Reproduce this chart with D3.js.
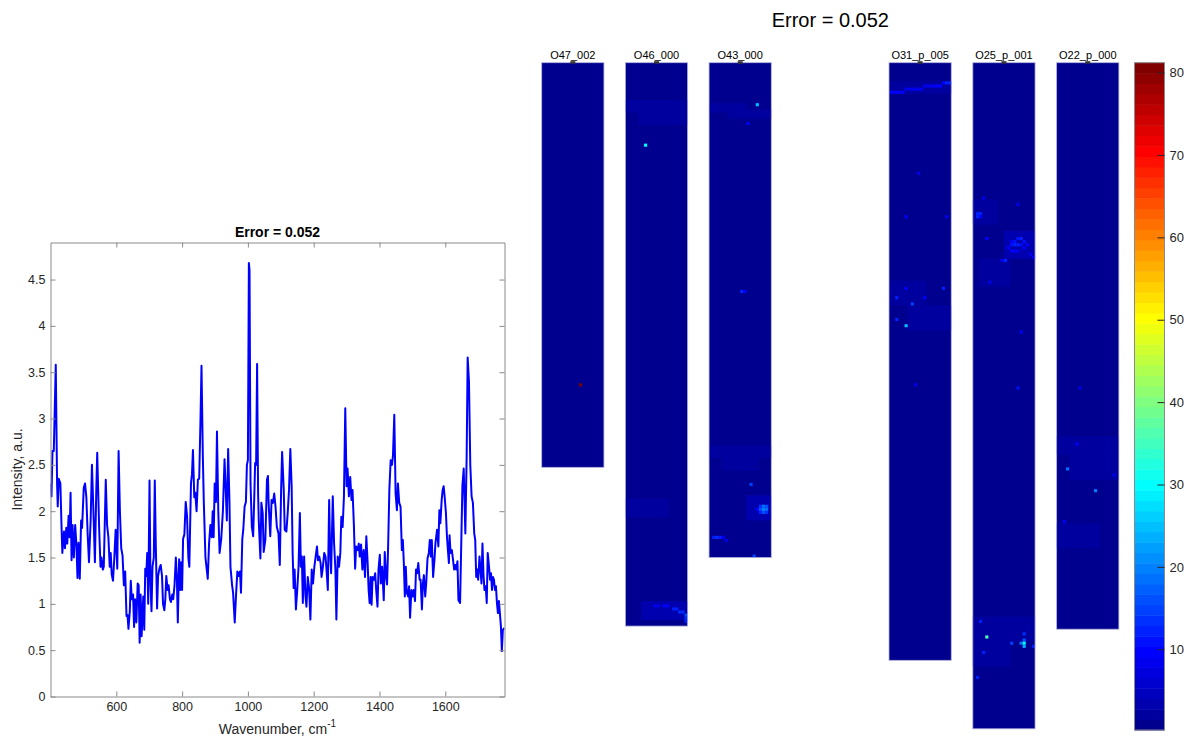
<!DOCTYPE html>
<html>
<head>
<meta charset="utf-8">
<script src="https://cdn.jsdelivr.net/npm/d3@7"></script>
<style>
  html, body { margin: 0; padding: 0; background: #fff; }
  svg { display: block; font-family: "Liberation Sans", Arial, Helvetica, sans-serif; }
</style>
</head>
<body>
<svg id="fig" width="1190" height="739"></svg>
<script>
// ---------- data ----------
const errorLabel = "Error = 0.052";

// Raman spectrum: [wavenumber cm^-1, intensity a.u.]
const spectrum = [
  [400,2.30],[403,2.16],[406,2.65],[410,2.65],[416,3.58],[420,2.30],[422,2.05],[425,2.35],[430,2.30],
  [433,1.90],[436,1.55],[441,1.78],[444,1.60],[448,1.82],[451,1.65],[455,1.95],[458,1.72],[461,2.20],
  [464,1.47],[467,1.85],[471,1.50],[475,1.85],[479,1.62],[482,1.28],[485,1.66],[489,1.27],[493,1.90],
  [496,1.82],[501,2.25],[505,2.30],[509,2.15],[513,1.75],[517,1.45],[522,1.90],[526,2.50],[530,2.05],
  [535,1.45],[539,2.20],[542,2.63],[548,1.80],[552,1.40],[555,1.50],[559,1.37],[562,1.40],[568,2.34],
  [572,1.85],[576,1.72],[580,1.40],[583,1.55],[586,1.32],[590,1.25],[594,1.50],[598,1.80],[603,1.38],
  [607,2.65],[611,2.00],[615,1.60],[619,1.52],[623,1.20],[627,1.35],[631,0.87],[634,0.88],[637,0.73],
  [641,0.92],[644,1.25],[647,1.05],[651,1.10],[654,0.75],[657,1.05],[661,0.80],[665,1.22],[668,1.20],
  [671,0.58],[674,1.10],[677,0.65],[682,1.08],[685,0.72],[688,1.38],[691,1.30],[694,1.55],[697,1.00],
  [701,2.33],[704,1.20],[707,0.92],[710,1.40],[714,1.50],[717,2.33],[720,1.65],[724,0.95],[727,1.30],
  [731,1.38],[735,1.42],[739,1.30],[742,1.00],[746,0.93],[749,1.05],[752,1.30],[756,1.15],[759,1.20],
  [763,1.05],[766,1.02],[770,1.10],[773,1.05],[777,1.20],[781,1.50],[784,1.30],[787,0.80],[791,1.48],
  [794,1.15],[797,1.45],[800,1.15],[803,1.70],[807,1.75],[811,2.10],[815,1.95],[819,1.50],[822,1.40],
  [827,2.30],[830,2.40],[833,2.66],[837,2.15],[840,2.20],[844,2.00],[848,2.34],[852,2.35],[856,3.00],
  [859,3.57],[863,2.60],[866,2.10],[871,1.50],[878,1.27],[882,1.65],[886,1.85],[890,1.72],[893,2.00],
  [896,1.72],[899,2.30],[903,2.10],[906,2.86],[910,2.00],[914,1.55],[919,1.70],[924,2.00],[929,2.56],
  [933,2.20],[936,1.90],[940,2.67],[944,2.10],[947,1.40],[952,1.20],[955,1.12],[960,0.80],[964,1.10],
  [968,1.35],[972,1.30],[976,1.35],[979,1.12],[983,1.70],[986,1.80],[990,2.05],[994,2.10],[997,2.50],
  [1000,2.55],[1003,4.68],[1005,4.60],[1008,2.30],[1012,1.83],[1016,1.73],[1019,2.10],[1022,2.52],
  [1025,2.50],[1028,3.59],[1031,2.20],[1033,1.90],[1038,1.49],[1041,2.09],[1045,1.98],[1048,1.56],
  [1053,1.69],[1058,2.34],[1061,2.38],[1063,2.09],[1068,1.73],[1072,2.12],[1076,2.09],[1080,2.19],
  [1084,2.05],[1088,1.83],[1093,1.76],[1097,1.42],[1101,2.23],[1104,2.64],[1109,2.23],[1112,1.80],
  [1117,1.78],[1121,1.98],[1125,2.23],[1129,2.67],[1133,2.27],[1136,1.55],[1139,1.17],[1142,1.37],
  [1146,0.94],[1150,1.15],[1154,1.40],[1158,1.98],[1161,1.40],[1164,1.51],[1167,1.01],[1171,1.51],
  [1175,1.08],[1178,0.97],[1182,1.29],[1186,1.17],[1190,0.83],[1194,1.37],[1198,1.22],[1202,1.40],
  [1206,1.51],[1210,1.62],[1213,1.47],[1217,1.51],[1221,1.44],[1224,1.29],[1228,1.40],[1232,1.55],
  [1236,1.51],[1239,1.37],[1243,1.15],[1247,2.12],[1250,1.55],[1253,1.33],[1258,2.16],[1262,1.65],
  [1266,1.37],[1269,0.83],[1273,1.51],[1277,1.40],[1281,1.55],[1284,1.94],[1288,1.83],[1292,2.16],
  [1296,3.11],[1300,2.27],[1303,2.46],[1307,2.16],[1311,2.37],[1315,2.12],[1318,2.23],[1322,1.87],
  [1326,1.38],[1329,1.62],[1334,1.58],[1337,1.65],[1340,1.51],[1344,1.64],[1348,1.37],[1352,1.58],
  [1356,1.29],[1360,1.73],[1364,1.44],[1367,1.15],[1370,1.01],[1373,1.29],[1376,0.99],[1379,1.29],
  [1383,1.26],[1387,1.33],[1390,1.15],[1394,0.97],[1397,1.37],[1401,1.53],[1404,1.22],[1408,1.40],
  [1413,1.04],[1416,1.56],[1420,1.29],[1423,1.21],[1426,1.58],[1430,2.23],[1434,2.55],[1438,2.50],
  [1441,2.60],[1445,3.04],[1449,2.19],[1453,2.01],[1456,2.30],[1460,2.09],[1464,2.05],[1468,1.58],
  [1471,1.69],[1474,1.44],[1477,1.08],[1480,1.40],[1483,1.12],[1487,1.08],[1490,1.19],[1493,0.85],
  [1497,1.15],[1501,1.08],[1504,1.15],[1508,1.03],[1511,1.37],[1514,1.33],[1518,1.44],[1522,1.26],
  [1525,1.26],[1529,0.94],[1532,1.22],[1535,1.31],[1539,1.08],[1542,1.22],[1546,1.49],[1550,1.55],
  [1553,1.69],[1556,1.51],[1559,1.69],[1563,1.29],[1567,1.47],[1570,1.65],[1575,1.80],[1579,1.62],
  [1582,2.01],[1585,1.87],[1589,2.12],[1592,2.23],[1595,2.27],[1598,2.16],[1602,1.98],[1605,1.73],
  [1608,1.58],[1611,1.44],[1613,1.74],[1616,1.55],[1620,1.58],[1623,1.49],[1627,1.37],[1630,1.42],
  [1633,1.37],[1637,1.46],[1640,1.04],[1645,1.01],[1649,1.73],[1652,2.27],[1656,2.46],[1661,1.76],
  [1665,2.60],[1668,3.66],[1672,3.40],[1676,2.50],[1680,2.16],[1684,2.09],[1688,1.76],[1691,1.69],
  [1694,1.29],[1697,1.37],[1700,1.26],[1704,1.51],[1707,1.37],[1710,1.22],[1713,1.65],[1716,1.33],
  [1719,1.15],[1723,1.19],[1726,1.01],[1729,1.55],[1733,1.40],[1736,1.26],[1739,1.33],[1742,1.15],
  [1745,1.29],[1748,1.26],[1751,1.15],[1754,1.19],[1757,1.01],[1760,0.90],[1763,1.03],[1766,0.90],
  [1769,0.76],[1772,0.49],[1775,0.72],[1780,0.74]
];
const specXDomain = [400, 1780];
const specYDomain = [0, 4.9];
const specXTicks = [600, 800, 1000, 1200, 1400, 1600];
const specYTicks = [0, 0.5, 1, 1.5, 2, 2.5, 3, 3.5, 4, 4.5];

// Error maps: two groups of sample panels, each panel 20 columns wide
const leftPanels = ["O47_002", "O46_000", "O43_000"];
const rightPanels = ["O31_p_005", "O25_p_001", "O22_p_000"];
const panelCols = 20;
const panelRows = { "O47_002": 130, "O46_000": 181, "O43_000": 159, "O31_p_005": 192, "O25_p_001": 214, "O22_p_000": 182 };
const panelBase = { "O47_002": 0.5, "O46_000": 1.0, "O43_000": 1.0, "O31_p_005": 1.0, "O25_p_001": 1.0, "O22_p_000": 1.0 };

// Areas of slightly raised error: [panel, col0, col1, row0, row1, value]
const mapPatches = [
  ["O46_000", 0, 20, 12, 16, 2.0], ["O46_000", 4, 20, 16, 20, 2.0], ["O46_000", 0, 14, 140, 146, 2.0],
  ["O46_000", 5, 20, 173, 179, 2.8],
  ["O43_000", 0, 12, 13, 16, 2.0], ["O43_000", 6, 20, 15, 18, 2.0], ["O43_000", 0, 20, 123, 127, 2.0],
  ["O43_000", 4, 16, 127, 131, 2.0], ["O43_000", 12, 20, 139, 147, 2.8],
  ["O31_p_005", 0, 20, 6, 10, 2.0], ["O31_p_005", 0, 12, 70, 78, 2.0], ["O31_p_005", 6, 20, 78, 86, 2.0],
  ["O25_p_001", 0, 8, 44, 52, 2.0], ["O25_p_001", 10, 20, 54, 63, 2.8], ["O25_p_001", 2, 12, 63, 72, 2.0],
  ["O25_p_001", 0, 20, 178, 186, 2.0], ["O25_p_001", 0, 12, 186, 194, 2.0],
  ["O22_p_000", 0, 20, 120, 126, 2.0], ["O22_p_000", 4, 20, 126, 134, 2.0], ["O22_p_000", 0, 14, 148, 156, 2.0]
];

// Single bright pixels: [panel, col, row, value]
const mapSpots = [
  ["O47_002", 12, 103, 80],
  ["O46_000", 6, 26, 30], ["O46_000", 9, 174, 8], ["O46_000", 10, 174, 9], ["O46_000", 12, 174, 10],
  ["O46_000", 13, 174, 10], ["O46_000", 15, 175, 12], ["O46_000", 16, 175, 12], ["O46_000", 17, 176, 14],
  ["O46_000", 18, 176, 14], ["O46_000", 19, 177, 16], ["O46_000", 19, 178, 14], ["O46_000", 19, 179, 12],
  ["O43_000", 15, 13, 25], ["O43_000", 12, 19, 10], ["O43_000", 10, 73, 12], ["O43_000", 11, 73, 10],
  ["O43_000", 13, 135, 15], ["O43_000", 15, 143, 10], ["O43_000", 16, 142, 14], ["O43_000", 17, 142, 18],
  ["O43_000", 18, 142, 16], ["O43_000", 16, 143, 16], ["O43_000", 17, 143, 20], ["O43_000", 18, 143, 18],
  ["O43_000", 16, 144, 12], ["O43_000", 17, 144, 16], ["O43_000", 18, 144, 14], ["O43_000", 1, 152, 12],
  ["O43_000", 2, 152, 14], ["O43_000", 3, 152, 12], ["O43_000", 4, 152, 10], ["O43_000", 5, 153, 9],
  ["O43_000", 14, 158, 15],
  ["O31_p_005", 0, 9, 10], ["O31_p_005", 1, 9, 10], ["O31_p_005", 2, 9, 10], ["O31_p_005", 3, 9, 10],
  ["O31_p_005", 4, 9, 10], ["O31_p_005", 5, 8, 9], ["O31_p_005", 6, 8, 9], ["O31_p_005", 7, 8, 9],
  ["O31_p_005", 8, 8, 9], ["O31_p_005", 9, 8, 9], ["O31_p_005", 10, 8, 9], ["O31_p_005", 11, 7, 9],
  ["O31_p_005", 12, 7, 9], ["O31_p_005", 13, 7, 9], ["O31_p_005", 14, 7, 10], ["O31_p_005", 15, 7, 10],
  ["O31_p_005", 16, 7, 10], ["O31_p_005", 17, 6, 10], ["O31_p_005", 18, 6, 12], ["O31_p_005", 19, 6, 12],
  ["O31_p_005", 9, 35, 8], ["O31_p_005", 5, 49, 10], ["O31_p_005", 18, 49, 9], ["O31_p_005", 5, 72, 10],
  ["O31_p_005", 17, 72, 12], ["O31_p_005", 2, 75, 12], ["O31_p_005", 11, 75, 10], ["O31_p_005", 7, 77, 15],
  ["O31_p_005", 2, 82, 12], ["O31_p_005", 5, 84, 25], ["O31_p_005", 8, 103, 9],
  ["O25_p_001", 3, 43, 9], ["O25_p_001", 14, 45, 9], ["O25_p_001", 1, 48, 12], ["O25_p_001", 2, 48, 12],
  ["O25_p_001", 1, 49, 12], ["O25_p_001", 2, 49, 10], ["O25_p_001", 4, 56, 10], ["O25_p_001", 14, 56, 11],
  ["O25_p_001", 15, 56, 12], ["O25_p_001", 12, 57, 10], ["O25_p_001", 13, 57, 11], ["O25_p_001", 16, 57, 11],
  ["O25_p_001", 12, 58, 11], ["O25_p_001", 13, 58, 12], ["O25_p_001", 14, 58, 12], ["O25_p_001", 15, 58, 11],
  ["O25_p_001", 17, 58, 10], ["O25_p_001", 11, 59, 10], ["O25_p_001", 16, 59, 10], ["O25_p_001", 12, 60, 10],
  ["O25_p_001", 13, 60, 10], ["O25_p_001", 14, 60, 9], ["O25_p_001", 18, 61, 9], ["O25_p_001", 19, 62, 9],
  ["O25_p_001", 9, 63, 10], ["O25_p_001", 10, 63, 12], ["O25_p_001", 5, 70, 9], ["O25_p_001", 15, 86, 10],
  ["O25_p_001", 14, 104, 11], ["O25_p_001", 2, 179, 12], ["O25_p_001", 16, 183, 14], ["O25_p_001", 4, 184, 36],
  ["O25_p_001", 16, 185, 16], ["O25_p_001", 12, 186, 15], ["O25_p_001", 15, 186, 18], ["O25_p_001", 16, 186, 30],
  ["O25_p_001", 16, 187, 24], ["O25_p_001", 19, 187, 12], ["O25_p_001", 3, 189, 12], ["O25_p_001", 1, 197, 12],
  ["O22_p_000", 7, 104, 8], ["O22_p_000", 6, 122, 10], ["O22_p_000", 3, 130, 18], ["O22_p_000", 18, 132, 9],
  ["O22_p_000", 12, 137, 20], ["O22_p_000", 2, 147, 10]
];

// Colour bar
const cbarRange = [0.2, 81.2];
const cbarTicks = [10, 20, 30, 40, 50, 60, 70, 80];

// ---------- helpers ----------
// MATLAB-style jet colormap with m entries
function jetColormap(m) {
  const n = Math.ceil(m / 4);
  const u = [];
  for (let i = 1; i <= n; i++) u.push(i / n);
  for (let i = 1; i < n; i++) u.push(1);
  for (let i = n; i >= 1; i--) u.push(i / n);
  const gOff = Math.ceil(n / 2) - (m % 4 === 1 ? 1 : 0);
  const J = Array.from({ length: m }, () => [0, 0, 0]);
  u.forEach((val, k) => {
    const g = gOff + k + 1, r = g + n, b = g - n;
    if (r >= 1 && r <= m) J[r - 1][0] = val;
    if (g >= 1 && g <= m) J[g - 1][1] = val;
    if (b >= 1 && b <= m) J[b - 1][2] = val;
  });
  return J.map(c => d3.rgb(c[0] * 255, c[1] * 255, c[2] * 255).formatHex());
}
const jet = jetColormap(64);
const color = d3.scaleQuantize().domain(cbarRange).range(jet);

const svg = d3.select("#fig");
const axisGray = "#8a8a8a";
const textGray = "#262626";

// ---------- spectrum ----------
const sp = { left: 50.5, right: 504.5, top: 242.5, bottom: 696.5 };
const x = d3.scaleLinear().domain(specXDomain).range([sp.left, sp.right]);
const y = d3.scaleLinear().domain(specYDomain).range([sp.bottom, sp.top]);

const spec = svg.append("g");
spec.append("defs").append("clipPath").attr("id", "specClip")
  .append("rect").attr("x", sp.left).attr("y", sp.top)
  .attr("width", sp.right - sp.left).attr("height", sp.bottom - sp.top);

spec.append("path")
  .datum(spectrum)
  .attr("clip-path", "url(#specClip)")
  .attr("fill", "none")
  .attr("stroke", "#0000ff")
  .attr("stroke-width", 2)
  .attr("stroke-linejoin", "round")
  .attr("d", d3.line().x(d => x(d[0])).y(d => y(d[1])));

function styleAxis(g) {
  g.attr("font-family", null).attr("font-size", null);
  g.selectAll(".domain").attr("stroke", axisGray);
  g.selectAll(".tick line").attr("stroke", axisGray);
  g.selectAll(".tick text").attr("fill", textGray).style("font-size", "12.5px");
}
spec.append("g").attr("transform", `translate(0,${sp.bottom})`)
  .call(d3.axisBottom(x).tickValues(specXTicks).tickSizeInner(-5).tickSizeOuter(0).tickPadding(6).tickFormat(d3.format("d")))
  .call(styleAxis);
spec.append("g").attr("transform", `translate(0,${sp.top})`)
  .call(d3.axisTop(x).tickValues(specXTicks).tickSizeInner(-5).tickSizeOuter(0).tickFormat(""))
  .call(styleAxis);
spec.append("g").attr("transform", `translate(${sp.left},0)`)
  .call(d3.axisLeft(y).tickValues(specYTicks).tickSizeInner(-5).tickSizeOuter(0).tickPadding(5).tickFormat(d3.format("")))
  .call(styleAxis);
spec.append("g").attr("transform", `translate(${sp.right},0)`)
  .call(d3.axisRight(y).tickValues(specYTicks).tickSizeInner(-5).tickSizeOuter(0).tickFormat(""))
  .call(styleAxis);

const cx = (sp.left + sp.right) / 2;
spec.append("text").attr("x", cx).attr("y", sp.top - 6)
  .attr("text-anchor", "middle").attr("font-weight", "bold").attr("font-size", 14)
  .attr("fill", "#000").text(errorLabel);

const xl = spec.append("text").attr("x", cx).attr("y", 734)
  .attr("text-anchor", "middle").attr("font-size", 14).attr("fill", textGray);
xl.append("tspan").text("Wavenumber, cm");
xl.append("tspan").attr("dy", -7).attr("font-size", 10).text("-1");

spec.append("text")
  .attr("transform", `translate(22,${(sp.top + sp.bottom) / 2}) rotate(-90)`)
  .attr("text-anchor", "middle").attr("font-size", 14).attr("fill", textGray)
  .text("Intensity, a.u.");

// ---------- error maps ----------
const mapTop = 62.7;
const bandLeft = d3.scaleBand().domain(leftPanels).range([541.7, 771.3]).paddingInner(0.256).paddingOuter(0);
const bandRight = d3.scaleBand().domain(rightPanels).range([889, 1119]).paddingInner(0.256).paddingOuter(0);
const panelX = name => (leftPanels.includes(name) ? bandLeft(name) : bandRight(name));
const panelW = bandLeft.bandwidth();
const cell = panelW / panelCols;

const maps = svg.append("g");
[...leftPanels, ...rightPanels].forEach(name => {
  const rows = panelRows[name];
  const px = d3.scaleLinear().domain([0, panelCols]).range([panelX(name), panelX(name) + panelW]);
  const py = d3.scaleLinear().domain([0, rows]).range([mapTop, mapTop + rows * cell]);
  const g = maps.append("g");

  g.append("rect")
    .attr("x", px(0)).attr("y", py(0))
    .attr("width", px(panelCols) - px(0)).attr("height", py(rows) - py(0))
    .attr("fill", color(panelBase[name]));

  g.selectAll("rect.patch")
    .data(mapPatches.filter(p => p[0] === name))
    .join("rect").attr("class", "patch")
    .attr("x", d => px(d[1])).attr("y", d => py(d[3]))
    .attr("width", d => px(d[2]) - px(d[1])).attr("height", d => py(d[4]) - py(d[3]))
    .attr("fill", d => color(d[5]));

  g.selectAll("rect.spot")
    .data(mapSpots.filter(s => s[0] === name))
    .join("rect").attr("class", "spot")
    .attr("x", d => px(d[1])).attr("y", d => py(d[2]))
    .attr("width", cell).attr("height", cell)
    .attr("fill", d => color(d[3]));

  g.append("rect")
    .attr("x", px(0)).attr("y", py(0))
    .attr("width", px(panelCols) - px(0)).attr("height", py(rows) - py(0))
    .attr("fill", "none").attr("stroke", "#b4b4dc").attr("stroke-width", 0.8);

  const mid = px(panelCols / 2);
  g.append("rect").attr("x", mid - 2.5).attr("y", mapTop - 1.5).attr("width", 5).attr("height", 2.5)
    .attr("fill", "#333");

  g.append("text").attr("x", mid).attr("y", mapTop - 3.5)
    .attr("text-anchor", "middle").attr("font-size", 11).attr("fill", "#000").text(name);
});

// overall title
svg.append("text")
  .attr("x", (bandLeft.range()[0] + bandRight.range()[1]) / 2).attr("y", 27)
  .attr("text-anchor", "middle").attr("font-size", 20).attr("fill", "#000")
  .text(errorLabel);

// ---------- colour bar ----------
const cb = { left: 1134.5, right: 1164.5, top: 62.7, bottom: 730 };
const cy = d3.scaleLinear().domain(cbarRange).range([cb.bottom, cb.top]);
const cbar = svg.append("g");
cbar.selectAll("rect.band")
  .data(jet)
  .join("rect").attr("class", "band")
  .attr("x", cb.left).attr("width", cb.right - cb.left)
  .attr("y", c => cy(color.invertExtent(c)[1]))
  .attr("height", c => cy(color.invertExtent(c)[0]) - cy(color.invertExtent(c)[1]) + 0.5)
  .attr("fill", c => c);
cbar.append("rect")
  .attr("x", cb.left).attr("y", cb.top).attr("width", cb.right - cb.left).attr("height", cb.bottom - cb.top)
  .attr("fill", "none").attr("stroke", axisGray).attr("stroke-width", 1);
cbar.append("g").attr("transform", `translate(${cb.right},0)`)
  .call(d3.axisRight(cy).tickValues(cbarTicks).tickSizeInner(-7).tickSizeOuter(0).tickPadding(5))
  .call(g => {
    g.attr("font-family", null).attr("font-size", null);
    g.select(".domain").remove();
    g.selectAll(".tick line").attr("stroke", textGray);
    g.selectAll(".tick text").attr("fill", textGray).style("font-size", "13px");
  });
</script>
</body>
</html>
